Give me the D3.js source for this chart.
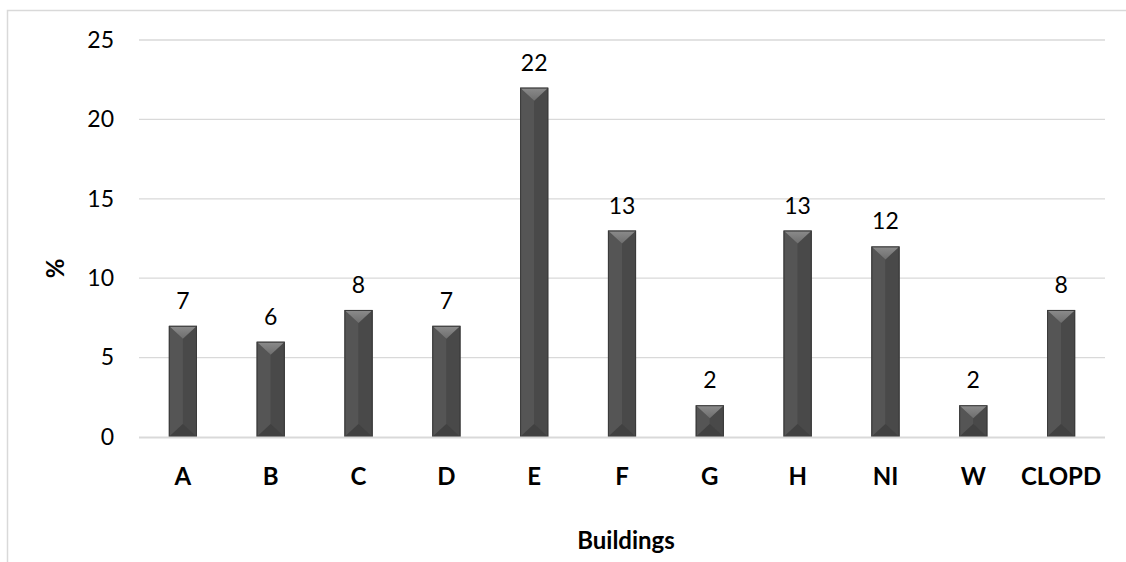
<!DOCTYPE html>
<html>
<head>
<meta charset="utf-8">
<script src="https://cdn.jsdelivr.net/npm/d3@7/dist/d3.min.js"></script>
<style>
  html, body { margin: 0; padding: 0; background: #fff; }
  svg { display: block; }
  text { font-family: Lato, "Open Sans", sans-serif; }
</style>
</head>
<body>
<svg id="chart" width="1126" height="562"></svg>
<script>
// Share of respondents per building (%)
const categories = ["A", "B", "C", "D", "E", "F", "G", "H", "NI", "W", "CLOPD"];
const values = [7, 6, 8, 7, 22, 13, 2, 13, 12, 2, 8];
const yTicks = [0, 5, 10, 15, 20, 25];
const xTitle = "Buildings";
const yTitle = "%";

const svg = d3.select("#chart");
const W = 1126, H = 562;
const plot = { left: 139, right: 1105, top: 40, bottom: 437 };
const FONT = "Lato, 'Open Sans', sans-serif";

// Outer chart frame (left and top edges are visible)
svg.append("rect")
  .attr("x", 7.5).attr("y", 10.5)
  .attr("width", W + 10).attr("height", H + 10)
  .attr("fill", "none").attr("stroke", "#d9d9d9").attr("stroke-width", 1.5);

const x = d3.scaleBand().domain(categories).range([plot.left, plot.right]).paddingInner(0.68).paddingOuter(0.34);
const y = d3.scaleLinear().domain([0, 25]).range([plot.bottom, plot.top]);

// Gridlines
svg.append("g").selectAll("line").data(yTicks.filter(d => d > 0)).join("line")
  .attr("x1", plot.left).attr("x2", plot.right)
  .attr("y1", d => y(d)).attr("y2", d => y(d))
  .attr("stroke", "#d9d9d9").attr("stroke-width", 1.3);

// Y axis tick labels
const yAxis = d3.axisLeft(y).tickValues(yTicks).tickSize(0).tickPadding(0);
const gy = svg.append("g").attr("transform", `translate(${plot.left - 25},0)`).call(yAxis);
gy.select(".domain").remove();
gy.selectAll("text").attr("font-size", 23).attr("fill", "#000").attr("font-family", FONT);

// Bevel gradients
const defs = svg.append("defs");
const topGrad = defs.append("linearGradient").attr("id", "topGrad").attr("x1", 0).attr("y1", 0).attr("x2", 0).attr("y2", 1);
topGrad.append("stop").attr("offset", "0%").attr("stop-color", "#8c8c8c");
topGrad.append("stop").attr("offset", "100%").attr("stop-color", "#6e6e6e");

const bars = svg.append("g").selectAll("g").data(categories.map((c, i) => ({ c, v: values[i] }))).join("g");

bars.each(function (d) {
  const g = d3.select(this);
  const x0 = x(d.c), bw = x.bandwidth();
  const yt = y(d.v), yb = y(0);
  const h = yb - yt;
  const bev = Math.min(bw / 2, 13, h / 2);
  const xm = x0 + bw / 2;
  // base body
  g.append("rect").attr("x", x0).attr("y", yt).attr("width", bw).attr("height", h).attr("fill", "#4c4c4c");
  // left face
  g.append("path").attr("d", `M${x0},${yt}L${xm},${yt + bev}L${xm},${yb - bev}L${x0},${yb}Z`).attr("fill", "#555555");
  // right face
  g.append("path").attr("d", `M${x0 + bw},${yt}L${xm},${yt + bev}L${xm},${yb - bev}L${x0 + bw},${yb}Z`).attr("fill", "#494949");
  // top bevel
  g.append("path").attr("d", `M${x0},${yt}L${x0 + bw},${yt}L${xm},${yt + bev}Z`).attr("fill", "url(#topGrad)");
  // bottom bevel
  g.append("path").attr("d", `M${x0},${yb}L${x0 + bw},${yb}L${xm},${yb - bev}Z`).attr("fill", "#414141");
  // edge outline
  g.append("rect").attr("x", x0 + 0.5).attr("y", yt + 0.5).attr("width", bw - 1).attr("height", h - 1)
    .attr("fill", "none").attr("stroke", "#3a3a3a").attr("stroke-width", 1);
});

// Baseline
svg.append("line").attr("x1", plot.left).attr("x2", plot.right)
  .attr("y1", y(0) + 0.5).attr("y2", y(0) + 0.5)
  .attr("stroke", "#d9d9d9").attr("stroke-width", 2);

// Value labels
bars.append("text")
  .attr("x", d => x(d.c) + x.bandwidth() / 2)
  .attr("y", d => y(d.v) - 17)
  .attr("text-anchor", "middle").attr("font-size", 23).attr("fill", "#000")
  .text(d => d.v);

// X axis category labels
const xAxis = d3.axisBottom(x).tickSize(0).tickPadding(0);
const gx = svg.append("g").attr("transform", `translate(0,${plot.bottom + 48})`).call(xAxis);
gx.select(".domain").remove();
gx.selectAll("text").attr("font-size", 24).attr("font-weight", "bold").attr("fill", "#000")
  .attr("font-family", FONT).attr("dy", null);

// Axis titles
svg.append("text").attr("x", (plot.left + plot.right) / 2 + 4).attr("y", 549)
  .attr("text-anchor", "middle").attr("font-size", 24).attr("font-weight", "bold").text(xTitle);
svg.append("text").attr("transform", `translate(64,${(plot.top + plot.bottom) / 2 + 30}) rotate(-90)`)
  .attr("text-anchor", "middle").attr("font-size", 24).attr("font-weight", "bold").text(yTitle);
</script>
</body>
</html>
